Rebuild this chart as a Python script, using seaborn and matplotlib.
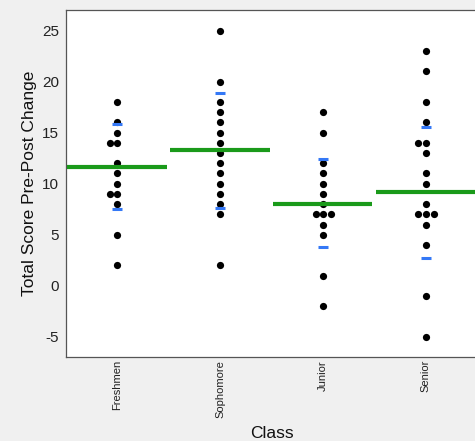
import pandas as pd
import matplotlib.pyplot as plt
import seaborn as sns

sns.set_style("white")
plt.rcParams["font.family"] = ["Liberation Sans", "DejaVu Sans"]
plt.rcParams["axes.unicode_minus"] = False

# ── Data ──────────────────────────────────────────────────
classes = ["Freshmen", "Sophomore", "Junior", "Senior"]

freshmen = [18, 16, 15, 14, 14, 12, 11, 10, 9, 9, 8, 5, 2]
sophomore = [25, 20, 18, 17, 16, 15, 14, 13, 12, 11, 10, 9, 8, 7, 2]
junior = [17, 15, 12, 11, 10, 9, 8, 7, 7, 7, 6, 5, 1, -2]
senior = [23, 21, 18, 16, 14, 14, 13, 11, 10, 8, 7, 7, 7, 6, 4, -1, -5]

means = [11.65, 13.3, 8.05, 9.15]
sd_upper = [15.8, 18.9, 12.4, 15.6]
sd_lower = [7.5, 7.65, 3.8, 2.7]

df = pd.concat([
    pd.DataFrame({"Class": name, "Change": vals})
    for name, vals in zip(classes, [freshmen, sophomore, junior, senior])
])

# ── Plot ──────────────────────────────────────────────────
fig = plt.figure(figsize=(4.75, 4.41), dpi=100, facecolor="#f0f0f0")
ax = fig.add_axes([0.139, 0.19, 0.866, 0.787])
ax.set_facecolor("white")

sns.swarmplot(data=df, x="Class", y="Change", order=classes,
              color="black", size=5.2, ax=ax)

for i, m in enumerate(means):
    ax.hlines(m, i - 0.49, i + 0.48, color="#1a9a1a", lw=3, zorder=3)

ax.plot(range(len(classes)), sd_upper, ls="none", marker="_", ms=7,
        mew=2.2, color="#3478f6", zorder=4)
ax.plot(range(len(classes)), sd_lower, ls="none", marker="_", ms=7,
        mew=2.2, color="#3478f6", zorder=4)

ax.set_xlim(-0.5, 3.5)
ax.set_ylim(-7, 27)
ax.set_yticks([-5, 0, 5, 10, 15, 20, 25])

ax.set_xticks(range(len(classes)))
ax.set_xticklabels(classes, rotation=90, fontsize=8, color="#222222")
ax.set_xticks([0.5, 1.5, 2.5], minor=True)
ax.tick_params(axis="x", which="major", length=0, pad=2)
ax.tick_params(axis="x", which="minor", length=4, width=0.8,
               color="#555555", direction="out")
ax.tick_params(axis="y", length=4, width=0.8, color="#555555",
               direction="out", labelsize=11, labelcolor="#222222", pad=1)

for side in ["left", "top", "bottom"]:
    ax.spines[side].set_color("#555555")
    ax.spines[side].set_linewidth(0.9)
ax.spines["right"].set_visible(False)

ax.set_xlabel("Class", fontsize=12.5, labelpad=6, color="#111111")
ax.set_ylabel("Total Score Pre-Post Change", fontsize=12.5, labelpad=4,
              color="#111111")

fig.savefig("out.png", dpi=100, facecolor=fig.get_facecolor())
